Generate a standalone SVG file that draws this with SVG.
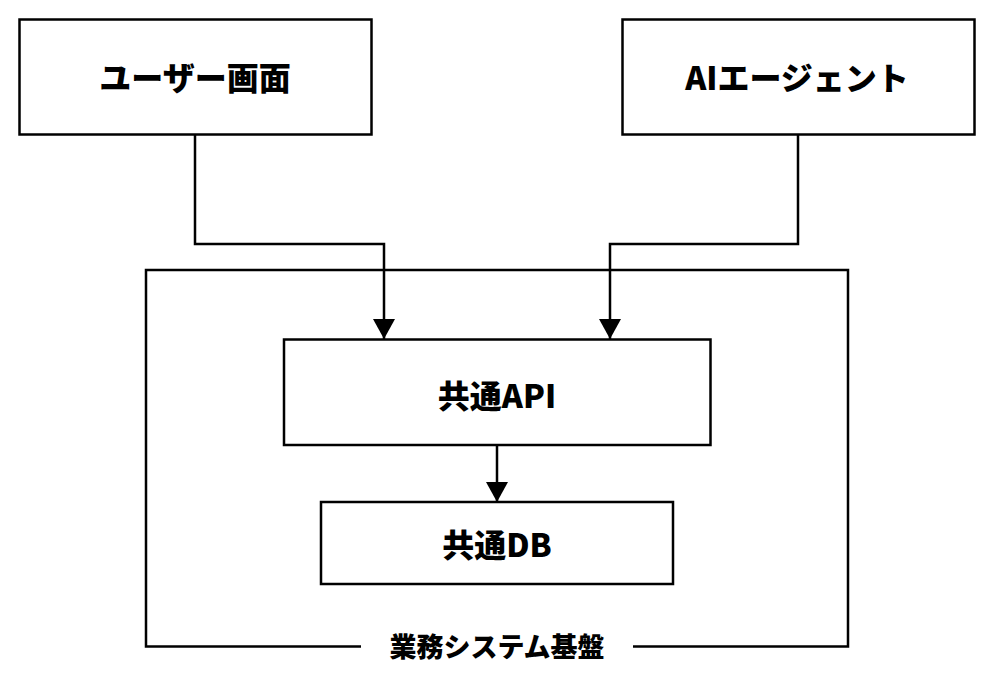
<svg xmlns="http://www.w3.org/2000/svg" width="1002" height="686" viewBox="0 0 1002 686">
<style>
.box{fill:#fff;stroke:#000;stroke-width:2.5}
.edge{fill:none;stroke:#000;stroke-width:2.5}
.lbl{font-family:"Noto Sans CJK JP","Noto Sans",sans-serif;font-weight:900;fill:#000;text-anchor:middle;dominant-baseline:central}
</style>
<defs>
<marker id="arr" viewBox="0 0 20 22" refX="20" refY="11" markerWidth="20" markerHeight="22" markerUnits="userSpaceOnUse" orient="auto">
<path d="M0,0 L20,11 L0,22 z" fill="#000"/>
</marker>
</defs>
<rect width="1002" height="686" fill="#fff"/>
<g id="platform">
<path class="edge" d="M361,646.5 H146 V270 H848 V646.5 H633"/>
<text class="lbl" x="497" y="645" font-size="27">業務システム基盤</text>
</g>
<g id="user-screen">
<rect class="box" x="19.5" y="19.5" width="352" height="115"/>
<text class="lbl" x="195" y="76" font-size="32">ユーザー画面</text>
</g>
<g id="ai-agent">
<rect class="box" x="622.5" y="19.5" width="352" height="115"/>
<text class="lbl" x="797" y="76" font-size="32">AIエージェント</text>
</g>
<g id="common-api">
<rect class="box" x="284" y="339.5" width="426.5" height="105.5"/>
<text class="lbl" x="497" y="394" font-size="32">共通API</text>
</g>
<g id="common-db">
<rect class="box" x="321" y="502" width="352" height="82"/>
<text class="lbl" x="497" y="543" font-size="32">共通DB</text>
</g>
<g id="connectors">
<path class="edge" d="M195,134.5 V244 H384 V339" marker-end="url(#arr)"/>
<path class="edge" d="M798,134.5 V244 H610 V339" marker-end="url(#arr)"/>
<path class="edge" d="M497,445 V502" marker-end="url(#arr)"/>
</g>
</svg>
